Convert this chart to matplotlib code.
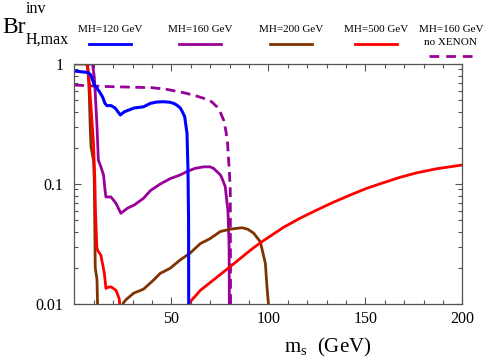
import matplotlib
matplotlib.use("Agg")
import matplotlib.pyplot as plt
from matplotlib.lines import Line2D
from matplotlib.ticker import FixedLocator, FixedFormatter, LogLocator, NullFormatter

plt.rcParams['font.family'] = ['Liberation Serif', 'DejaVu Serif']
plt.rcParams['mathtext.fontset'] = 'custom'
plt.rcParams['mathtext.rm'] = 'Liberation Serif'
plt.rcParams['mathtext.it'] = 'Liberation Serif:italic'

# ---- data ----
mh120_x = [0, 6.9, 8.6, 10.3, 12.9, 14.6, 15.8, 16.8, 19.0, 21.0, 22.5, 23.7, 25.8, 30.9, 35.7,
           39.2, 42.5, 46.0, 49.3, 51.2, 52.8, 54.6, 55.7, 56.9, 58.1, 58.6, 58.9, 59.0]
mh120_y = [0.874, 0.85, 0.81, 0.67, 0.59, 0.53, 0.47, 0.45, 0.45, 0.43, 0.40, 0.376, 0.40, 0.43, 0.44,
           0.47, 0.482, 0.485, 0.48, 0.47, 0.455, 0.43, 0.40, 0.364, 0.264, 0.13, 0.05, 0.005]

mh160_x = [6.5, 9.4, 10.3, 10.8, 11.7, 12.4, 13.7, 15.1, 15.8, 16.3, 18.9, 21.5, 24.0, 27.5, 31.0,
           35.7, 39.2, 44.3, 49.5, 54.6, 58.1, 62.2, 66.7, 69.9, 71.8, 75.3, 76.5, 77.8, 78.2,
           79.2, 79.8, 80.0]
mh160_y = [1.0, 1.0, 0.78, 0.57, 0.30, 0.158, 0.139, 0.118, 0.09, 0.078, 0.078, 0.069, 0.057, 0.063, 0.067,
           0.076, 0.088, 0.100, 0.111, 0.119, 0.127, 0.135, 0.139, 0.139, 0.135, 0.119, 0.108, 0.095, 0.083,
           0.06, 0.03, 0.005]

mh200_a_x = [0, 6.9, 7.7, 8.2, 8.6, 9.9, 10.3, 10.8, 11.7, 12.4]
mh200_a_y = [1.0, 1.0, 0.57, 0.30, 0.205, 0.158, 0.108, 0.02, 0.016, 0.005]
mh200_b_x = [24.8, 25.2, 27.0, 30.6, 35.7, 40.8, 44.3, 49.3, 54.6, 59.6, 65.0, 69.9, 75.3, 80.3, 83.9,
             86.5, 89.4, 92.4, 95.9, 98.5, 99.3, 100.3, 100.6]
mh200_b_y = [0.005, 0.0102, 0.011, 0.0123, 0.0133, 0.0158, 0.018, 0.0198, 0.0233, 0.0265, 0.0319, 0.035,
             0.0402, 0.042, 0.0427, 0.0432, 0.042, 0.039, 0.033, 0.0217, 0.014, 0.009, 0.005]

mh500_a_x = [6.5, 7.5, 8.6, 9.9, 10.6, 10.9, 11.6, 12.0, 13.7, 15.5, 16.3, 17.5, 18.9, 21.5, 23.2, 24.6]
mh500_a_y = [1.0, 0.8, 0.44, 0.218, 0.108, 0.06, 0.03, 0.028, 0.0255, 0.018, 0.0135, 0.0138, 0.0139,
             0.013, 0.011, 0.005]
mh500_b_x = [58.8, 59.2, 65.0, 80.4, 90.7, 95.9, 107.9, 116.3, 125.1, 133.5, 142.1, 150.7, 159.4,
             167.9, 176.6, 186.8, 200.0]
mh500_b_y = [0.005, 0.0102, 0.013, 0.0205, 0.028, 0.0324, 0.0436, 0.0518, 0.0608, 0.0704, 0.0808, 0.092,
             0.1026, 0.1137, 0.124, 0.134, 0.144]

noxe_x = [0, 15, 31, 40, 47.6, 56.3, 61.5, 66.7, 70.8, 73.5, 75.5, 77.0, 78.2, 79.0, 79.9, 80.4, 80.6]
noxe_y = [0.668, 0.65, 0.64, 0.635, 0.615, 0.577, 0.55, 0.518, 0.485, 0.44, 0.388, 0.34, 0.273, 0.218,
          0.13, 0.088, 0.005]

legend_labels = ["MH=120 GeV", "MH=160 GeV", "MH=200 GeV", "MH=500 GeV"]
xticks = [50, 100, 150, 200]
yticks = [0.01, 0.1, 1]
ytick_labels = ["0.01", "0.1", "1"]

c_blue = '#0000ff'
c_purple = '#990099'
c_brown = '#7f3300'
c_red = '#ff0000'
spine_c = '#555555'

W, H = 485, 359
fig = plt.figure(figsize=(W / 100, H / 100), dpi=100)
ax = fig.add_axes([74.3 / W, 1 - 304 / H, (462.3 - 74.3) / W, (304 - 64) / H])

lw = 2.0
ax.plot(noxe_x, noxe_y, color=c_purple, lw=lw, dashes=(3.5, 2.0))
ax.plot(mh160_x, mh160_y, color=c_purple, lw=lw)
ax.plot(mh200_a_x, mh200_a_y, color=c_brown, lw=lw)
ax.plot(mh200_b_x, mh200_b_y, color=c_brown, lw=lw)
ax.plot(mh500_a_x, mh500_a_y, color=c_red, lw=lw)
ax.plot(mh500_b_x, mh500_b_y, color=c_red, lw=lw)
ax.plot(mh120_x, mh120_y, color=c_blue, lw=2.2)

ax.set_yscale('log')
ax.set_xlim(0, 200)
ax.set_ylim(0.01, 1)

ax.xaxis.set_major_locator(FixedLocator(xticks))
ax.xaxis.set_minor_locator(FixedLocator(list(range(10, 200, 10))))
ax.yaxis.set_major_locator(FixedLocator(yticks))
ax.yaxis.set_major_formatter(FixedFormatter(ytick_labels))
ax.yaxis.set_minor_locator(LogLocator(base=10, subs=range(2, 10)))
ax.yaxis.set_minor_formatter(NullFormatter())

ax.tick_params(which='both', direction='in', top=True, right=True, color=spine_c,
               labelsize=11.5, width=0.8)
ax.tick_params(which='major', length=5)
ax.tick_params(which='minor', length=3)
ax.tick_params(axis='x', which='both', pad=5)
ax.tick_params(axis='y', which='both', pad=8)
for s in ax.spines.values():
    s.set_color(spine_c)
    s.set_linewidth(0.9)

# x label
fig.text(327.7 / W, 1 - 352 / H, r"$\mathrm{m_s}$  (GeV)", ha='center', va='baseline', fontsize=15)

# y label (Br with sup/sub)
fig.text(2 / W, 1 - 33 / H, "Br", ha='left', va='baseline', fontsize=17)
fig.text(26 / W, 1 - 13 / H, "inv", ha='left', va='baseline', fontsize=11.5)
fig.text(26 / W, 1 - 44 / H, "H,max", ha='left', va='baseline', fontsize=11.5)

# legend
leg_fs = 8.0
leg_cols = [c_blue, c_purple, c_brown, c_red]
leg_cx = [110, 200, 291, 376]
for lab, col, cx in zip(legend_labels, leg_cols, leg_cx):
    fig.text(cx / W, 1 - 32 / H, lab, ha='center', va='baseline', fontsize=leg_fs)
    fig.add_artist(Line2D([(cx - 21) / W, (cx + 21) / W], [1 - 44 / H, 1 - 44 / H],
                          transform=fig.transFigure, color=col, lw=2.0))
fig.text(451 / W, 1 - 32 / H, "MH=160 GeV", ha='center', va='baseline', fontsize=leg_fs)
fig.text(451 / W, 1 - 45 / H, "no XENON", ha='center', va='baseline', fontsize=leg_fs)
fig.add_artist(Line2D([429 / W, 474 / W], [1 - 56 / H, 1 - 56 / H], transform=fig.transFigure,
                      color=c_purple, lw=2.0, dashes=(3.5, 2.5)))

fig.savefig("out.png", dpi=100)
